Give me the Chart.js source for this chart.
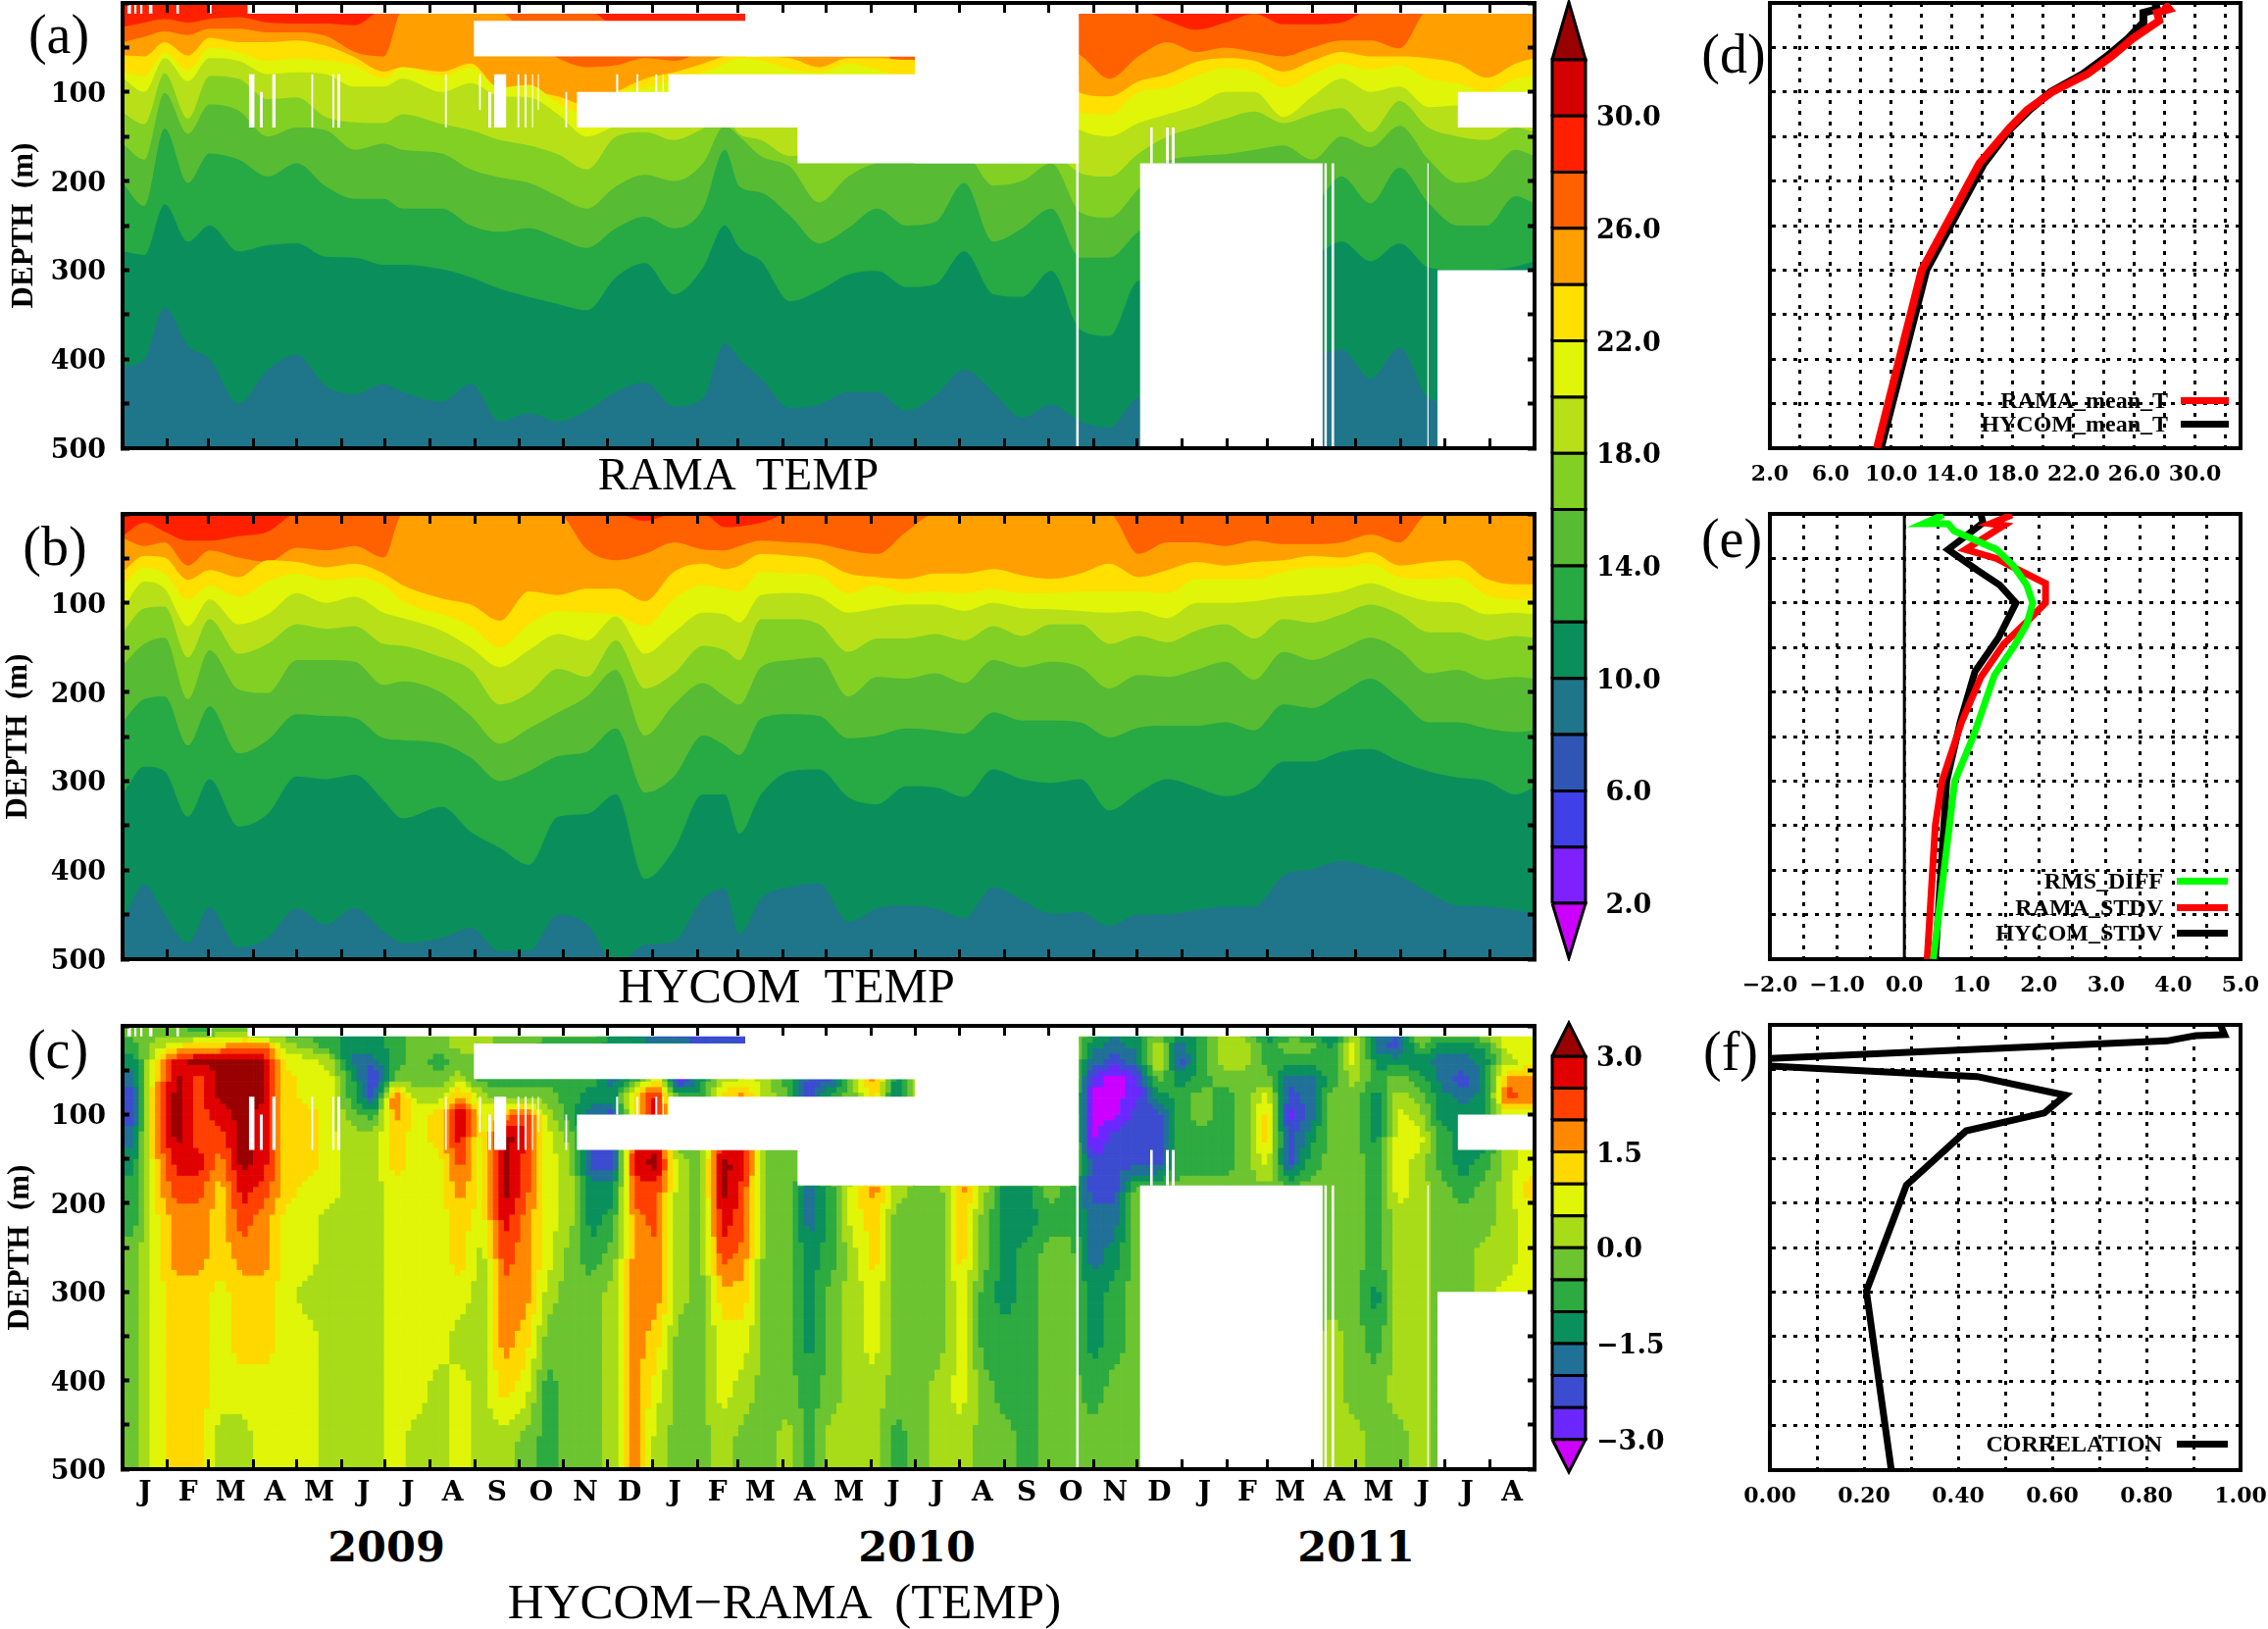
<!DOCTYPE html>
<html>
<head>
<meta charset="utf-8">
<title>HYCOM RAMA TEMP</title>
<script src="https://cdn.jsdelivr.net/npm/chart.js@4"></script>
<style>
  html, body { margin: 0; padding: 0; background: #fff; }
  #page { position: relative; width: 2313px; height: 1661px; overflow: hidden; }
  canvas { position: absolute; }
  .txt { position: absolute; white-space: pre; line-height: 1; color: #000; transform: translate(-50%, -50%); }
  .rt { transform: translate(-100%, -50%); }
  .key { position: absolute; height: 7px; }
</style>
</head>
<body>
<div id="page"></div>
<script>
// time axis, days since 1 Jan 2009
const monthDays = [0,31,59,90,120,151,181,212,243,273,304,334,365,396,424,455,485,516,546,577,608,638,669,699,730,761,789,820,850,881,911,942,973];
const monthLetters = ['J','F','M','A','M','J','J','A','S','O','N','D','J','F','M','A','M','J','J','A','S','O','N','D','J','F','M','A','M','J','J','A'];
const depthTicks = [0,50,100,150,200,250,300,350,400,450,500];

// days where the isotherm depths below were read
const knotDays = [0,15,29,45,60,80,100,120,140,160,180,193,220,240,260,280,300,320,340,360,380,400,415,425,440,460,480,500,520,540,560,580,600,620,640,660,680,700,720,740,760,780,800,820,840,860,880,900,920,940,960,973];

// (a) RAMA, depth (m) of each isotherm
const ramaT10 = [409,400,342,385,400,450,412,395,430,440,428,437,448,428,470,461,470,458,437,426,453,444,382,400,422,455,451,437,437,458,441,412,437,466,451,470,477,444,444,444,440,430,420,400,389,422,387,444,450,450,450,450];
const ramaT12 = [279,283,226,268,250,279,272,270,285,286,294,294,299,308,321,330,338,345,308,292,327,297,250,275,290,335,323,305,301,319,316,279,327,330,301,367,374,312,310,305,300,295,290,285,268,290,270,297,300,300,296,290];
const ramaT14 = [202,228,141,202,169,176,195,180,206,220,220,231,231,250,257,253,264,275,253,240,253,231,165,206,213,239,270,253,231,250,246,202,268,253,231,286,286,257,240,235,230,225,225,225,195,225,185,225,250,250,217,225];
const ramaT16 = [158,176,101,147,114,121,150,140,143,165,158,165,169,187,196,202,217,231,206,193,200,180,138,150,172,184,224,195,180,178,176,170,205,200,180,235,241,209,178,172,170,165,160,176,150,162,138,176,202,195,165,172];
const ramaT18 = [123,136,79,130,82,85,108,106,128,134,135,125,136,143,154,160,170,187,150,145,154,141,128,147,154,172,170,170,170,170,170,170,170,170,170,191,195,169,150,140,130,122,135,125,118,145,110,140,150,154,140,145];
const ramaT20 = [84,100,62,88,62,65,80,78,80,94,94,85,100,90,105,106,125,150,138,128,135,125,120,130,135,120,120,120,120,120,120,120,120,120,120,143,150,135,125,115,100,100,128,105,85,100,94,117,115,115,105,100];
const ramaT22 = [78,82,55,75,50,55,65,62,65,70,85,72,82,72,95,92,112,125,100,95,85,78,68,62,65,74,78,68,75,85,85,85,85,85,85,123,125,100,95,82,73,78,95,80,68,75,70,85,90,100,85,82];
const ramaT24 = [59,60,44,59,39,44,44,42,48,61,77,72,77,68,98,100,105,115,100,85,78,68,60,58,60,62,72,62,62,64,64,64,64,64,64,101,105,88,80,66,62,65,77,65,55,60,60,62,68,84,68,62];
const ramaT26 = [44,38,32,36,29,29,33,33,37,55,60,8,8,8,10,40,62,72,70,62,65,55,50,50,50,50,50,50,50,78,50,50,50,50,50,59,85,60,44,55,50,55,60,50,42,42,51,8,8,8,8,8];
const ramaT28 = [27,22,18,22,18,16,22,23,23,25,8,8,8,8,8,8,8,8,25,25,25,25,25,25,25,8,8,8,8,8,8,8,8,8,8,8,8,8,20,30,22,12,24,24,22,8,8,8,8,8,8,8];

// (b) HYCOM, depth (m) of each isotherm
const hycomT10 = [458,416,450,482,442,487,476,443,461,443,469,482,476,465,491,491,450,461,505,484,480,432,421,472,432,419,415,458,443,440,443,454,419,434,449,447,463,450,450,445,441,441,406,399,390,397,406,425,440,441,445,449];
const hycomT12 = [315,284,289,340,298,351,337,295,298,293,322,342,329,357,375,394,340,337,315,410,377,315,315,359,315,289,287,318,326,306,307,318,287,298,302,298,333,313,298,307,317,307,278,278,267,264,278,289,296,300,315,307];
const hycomT14 = [234,208,205,260,216,269,254,225,227,229,252,254,258,274,300,289,272,267,241,313,295,249,260,271,230,225,227,252,249,241,243,247,223,232,232,234,251,240,238,238,234,243,214,218,201,185,208,234,234,241,245,243];
const hycomT16 = [170,146,139,208,153,197,201,164,164,166,192,188,201,227,258,241,223,205,175,249,214,190,205,214,172,164,161,205,183,185,179,190,164,172,166,172,196,181,183,175,166,186,155,164,152,139,153,179,175,186,183,185];
const hycomT18 = [133,106,104,161,118,157,146,124,129,126,146,148,161,175,214,201,174,183,142,196,179,148,153,164,118,118,124,155,140,140,135,142,126,137,124,124,146,137,144,131,124,140,118,122,113,102,113,133,133,142,137,139];
const hycomT20 = [107,76,84,126,96,124,113,89,100,93,111,117,131,150,172,153,135,142,115,157,133,111,113,122,91,89,93,111,106,102,102,109,100,106,107,109,111,109,117,100,100,98,93,91,87,78,89,98,100,113,111,113];
const hycomT22 = [80,60,67,96,80,93,76,67,74,71,80,98,113,126,150,124,109,111,113,126,95,80,84,87,65,67,69,89,80,89,87,89,84,89,89,87,87,87,89,73,73,73,65,60,60,56,71,73,71,91,96,96];
const hycomT24 = [65,47,49,74,63,71,52,54,60,56,67,80,95,102,120,87,91,84,84,98,65,56,62,58,45,47,51,67,71,73,67,67,62,69,73,67,56,71,63,54,58,54,52,47,49,43,58,54,52,73,79,79];
const hycomT26 = [27,36,32,58,41,49,54,38,41,36,49,0,0,0,0,0,0,40,52,45,32,40,41,36,30,32,34,41,45,20,0,0,0,0,0,0,0,45,32,32,36,30,34,34,32,23,32,0,0,0,0,0];
const hycomT28 = [25,10,20,30,30,25,20,0,0,0,0,0,0,0,0,0,0,0,0,8,0,0,15,14,10,0,0,0,0,0,0,0,0,0,0,0,0,0,0,0,0,0,0,0,0,0,0,0,0,0,0,0];

const tempColors = ['#1F758A','#0A8F5C','#27A943','#57BB33','#82D024','#B8E018','#E0F507','#FFE000','#FF9F00','#FF6000','#FF2000'];

// (c) HYCOM-RAMA, one list of 15 values per 15-day column, top to bottom
const diffDepths = [6,21,40,60,80,100,125,155,185,220,260,305,355,410,470];
const diffColumns = [
  [-0.25,-0.75,-1.25,-1.75,-2.25,-2.25,-1.75,-1.25,-0.75,-0.75,-0.25,-0.25,-0.25,-0.25,-0.25],
  [-0.25,0.25,0.75,1.25,1.75,1.75,1.75,1.25,1.25,0.75,0.75,0.75,0.75,0.75,0.75],
  [-0.25,0.75,2.75,3.2,3.2,3.2,3.2,2.75,2.25,1.75,1.75,1.25,1.25,1.25,1.25],
  [-0.75,1.25,3.2,2.25,2.25,2.25,2.25,2.75,2.25,1.75,1.75,1.25,1.25,1.25,1.25],
  [-0.25,1.25,3.2,3.2,3.2,2.75,2.25,1.75,1.25,1.25,1.25,0.75,0.75,0.75,0.25],
  [-0.25,1.75,3.2,3.2,3.2,3.2,3.2,3.2,2.75,2.25,1.75,1.25,1.25,0.75,0.25],
  [-0.75,1.75,3.2,3.2,3.2,2.75,2.75,2.75,2.25,1.75,1.75,1.25,1.25,0.75,0.75],
  [-0.75,0.25,0.75,1.25,1.25,1.25,1.25,1.25,1.25,0.75,0.75,0.75,0.75,0.75,0.75],
  [-0.75,-0.25,0.75,0.75,0.75,1.25,1.25,1.25,0.75,0.75,0.75,0.25,0.75,0.75,0.75],
  [-0.75,-0.75,0.25,0.75,0.75,0.75,0.75,0.75,0.75,0.25,0.25,0.25,0.25,0.25,0.25],
  [-1.25,-1.25,-1.75,-0.75,-0.75,-0.25,0.25,0.25,0.25,0.25,0.25,0.25,0.25,0.25,0.25],
  [-1.25,-1.25,-1.75,-2.75,-2.25,-0.75,0.25,0.25,0.25,0.25,0.25,0.25,0.25,0.25,0.25],
  [-0.75,-0.75,-0.75,-0.25,2.25,1.75,1.25,1.25,0.75,0.75,0.75,0.75,0.75,0.75,0.75],
  [-0.25,-0.25,-0.25,-0.25,0.25,0.75,0.75,0.75,0.75,0.75,0.75,0.75,0.75,0.75,0.25],
  [-0.25,-0.25,-0.75,-0.25,0.25,1.25,1.25,0.75,0.75,0.75,0.75,0.75,0.75,0.25,0.25],
  [0.25,0.25,-0.25,0.25,1.75,3.2,2.75,2.25,1.75,1.25,1.25,0.75,0.25,0.75,0.75],
  [0.25,0.25,-0.25,-0.75,0.25,0.75,0.75,0.75,0.75,0.75,0.25,0.25,0.25,0.25,0.25],
  [-0.25,-0.25,-0.25,-0.75,-0.25,1.75,3.2,3.2,3.2,2.75,2.25,1.75,1.75,1.25,0.25],
  [-0.25,-0.25,-0.75,-0.75,-0.25,2.25,2.75,2.25,2.25,1.75,1.75,1.75,1.25,0.75,-0.25],
  [-0.25,-0.75,-0.75,-0.75,-0.25,0.25,0.75,0.75,0.75,0.75,0.75,0.25,-0.25,-0.75,-0.75],
  [-0.25,-0.75,-0.75,-0.75,-0.75,-0.75,-0.25,0.25,0.25,0.25,-0.25,-0.25,-0.25,-0.25,-0.25],
  [-0.25,-0.75,-0.75,-0.75,-1.25,-1.75,-1.75,-2.25,-1.25,-1.25,-0.75,-0.25,-0.25,-0.25,-0.25],
  [-1.25,-1.25,-1.25,-1.75,-1.25,-2.25,-2.25,-2.25,-1.25,-0.75,-0.25,0.25,0.25,0.25,0.25],
  [-1.75,-1.25,-0.75,-0.75,1.25,1.25,2.25,2.75,2.25,1.75,1.75,1.75,1.75,1.75,1.75],
  [-2.25,-1.25,-0.75,1.25,2.75,2.75,2.75,3.2,2.25,2.25,1.75,1.75,1.25,0.75,0.25],
  [-2.25,-1.25,-0.75,-2.75,-0.75,-0.25,-0.25,0.25,0.25,0.25,0.25,0.25,-0.25,-0.25,-0.25],
  [-2.25,-2.25,-1.75,-1.25,-0.75,-0.75,-0.25,-0.25,-0.25,-0.25,-0.25,-0.25,-0.25,-0.25,-0.25],
  [-2.75,-1.75,-1.75,0.25,1.25,1.75,2.25,3.2,3.2,2.75,2.25,1.25,0.75,0.75,0.25],
  [-2.25,-2.25,-1.75,0.75,1.75,1.75,2.25,2.75,2.25,2.25,1.75,1.25,0.75,0.25,-0.25],
  [-0.75,-0.75,-0.75,0.25,0.25,0.25,0.25,-0.25,-0.25,-0.25,-0.25,-0.25,-0.25,-0.25,-0.25],
  [0.25,0.25,0.25,-0.75,-0.25,-0.75,-0.75,-0.25,-0.25,-0.25,-0.25,-0.25,-0.25,-0.25,0.25],
  [0.25,0.25,0.25,-2.25,-2.25,0.25,0.25,0.25,-1.75,-1.75,-1.25,-1.25,-1.25,-0.75,-0.75],
  [0.25,0.25,0.25,-2.25,-0.75,0.25,0.25,0.25,-0.75,-0.75,-0.75,-0.25,-0.25,-0.25,0.25],
  [0.25,0.25,0.25,0.25,-0.25,0.25,0.25,0.25,0.75,0.75,0.25,0.25,0.25,0.25,0.25],
  [0.25,0.25,0.25,1.75,1.25,0.25,0.25,0.25,1.75,1.25,1.25,0.75,0.75,0.25,0.25],
  [0.25,0.25,0.25,-1.25,-1.75,0.25,0.25,0.25,0.25,-0.25,-0.25,-0.25,-0.25,-0.25,-0.75],
  [0.25,0.25,0.25,0.25,0.25,0.25,0.25,0.25,-0.25,-0.25,-0.25,-0.25,-0.25,-0.25,-0.25],
  [0.25,0.25,0.25,0.25,0.25,0.25,0.25,0.25,-0.25,-0.25,-0.25,-0.25,-0.25,0.25,0.25],
  [0.25,0.25,0.25,0.25,0.25,0.25,0.25,0.25,1.75,1.25,1.25,0.75,0.75,0.75,0.25],
  [0.25,0.25,0.25,0.25,0.25,0.25,0.25,0.25,0.25,-0.25,-0.25,-0.75,-0.75,-0.25,-0.25],
  [0.25,0.25,0.25,0.25,0.25,0.25,0.25,0.25,-1.25,-1.25,-1.25,-1.25,-0.75,-0.75,-0.25],
  [0.25,0.25,0.25,0.25,0.25,0.25,0.25,0.25,-1.25,-1.25,-0.75,-0.75,-0.75,-0.75,-0.75],
  [0.25,0.25,0.25,0.25,0.25,0.25,0.25,0.25,-0.25,-0.75,-0.25,-0.25,-0.25,-0.25,-0.25],
  [0.25,0.25,0.25,0.25,0.25,0.25,0.25,0.25,-0.75,-0.75,-0.25,-0.25,-0.25,-0.25,-0.25],
  [-0.75,-1.25,-1.75,-2.75,-3.2,-3.2,-3.2,-2.25,-2.25,-1.75,-1.75,-1.25,-1.25,-0.75,-0.25],
  [-1.25,-1.75,-2.25,-3.2,-3.2,-3.2,-2.25,-2.25,-2.25,-1.75,-1.25,-0.75,-0.75,-0.25,-0.25],
  [-1.25,-1.25,-1.75,-2.75,-2.75,-2.25,-2.25,-2.25,-0.25,-0.25,-0.25,-0.25,-0.25,-0.25,-0.25],
  [-0.25,0.25,0.75,-0.25,-1.25,-2.25,-2.25,-2.25,-0.25,-0.25,-0.25,-0.25,-0.25,-0.25,-0.25],
  [-1.25,-1.75,-2.25,-1.25,-0.75,-0.75,-0.75,-0.75,-0.25,-0.25,-0.25,-0.25,-0.25,-0.25,-0.25],
  [-0.75,-0.75,-0.75,-0.75,-0.25,-0.25,-0.75,-0.75,-0.25,-0.25,-0.25,-0.25,-0.25,-0.25,-0.25],
  [0.25,0.25,0.25,-0.25,-0.75,-0.75,-0.75,-0.75,-0.25,-0.25,-0.25,-0.25,-0.25,-0.25,-0.25],
  [-0.25,0.25,0.25,-0.25,-0.25,-0.25,-0.25,-0.25,-0.25,-0.25,-0.25,-0.25,-0.25,-0.25,-0.25],
  [-1.75,-0.75,-0.75,-0.25,0.75,1.25,1.25,0.75,-0.25,-0.25,-0.25,-0.25,-0.25,-0.25,-0.25],
  [-0.75,-0.25,-0.75,-1.75,-2.25,-2.75,-2.25,-2.25,-0.25,-0.25,-0.25,-0.25,-0.25,-0.25,-0.25],
  [-1.25,-0.25,-0.75,-1.75,-1.75,-1.75,-1.25,-0.75,-0.25,-0.25,-0.25,-0.25,-0.25,-0.25,-0.25],
  [-1.25,-1.25,-0.75,-0.75,-0.25,-0.25,-0.25,-0.25,-0.25,-0.25,-0.25,-0.25,0.25,0.25,0.25],
  [-0.25,0.75,0.75,0.25,-0.25,-0.25,-0.25,-0.25,-0.25,-0.25,-0.25,-0.25,-0.25,-0.25,0.25],
  [-1.75,-1.75,-1.25,-0.75,-1.25,-1.25,-1.25,-0.75,-0.75,-0.75,-0.75,-1.25,-0.75,-0.25,-0.25],
  [-1.75,-2.25,-1.25,-0.25,0.25,0.75,0.75,0.75,0.75,0.25,0.25,0.25,0.25,0.25,-0.25],
  [-0.25,-0.25,-1.25,-0.75,-0.25,0.25,0.75,0.25,0.25,0.25,0.25,0.25,0.25,0.25,0.25],
  [-0.25,-1.25,-1.75,-1.75,-1.25,-1.25,-0.75,-0.75,-0.25,-0.25,-0.25,-0.25,-0.25,-0.25,-0.25],
  [0.25,-1.25,-1.75,-2.25,-1.75,-1.25,-1.25,-1.25,-0.75,-0.25,-0.25,-0.25,-0.25,-0.25,-0.25],
  [0.25,-0.75,-1.25,-1.25,-1.25,-1.25,-1.25,-0.75,-0.25,-0.25,0.25,0.25,0.25,0.25,0.25],
  [0.75,0.75,0.25,1.75,2.25,0.75,0.25,0.25,0.25,0.25,0.25,0.75,0.25,0.25,0.25],
  [0.75,0.75,0.75,1.75,1.75,0.75,0.75,0.75,1.25,0.75,0.75,0.75,0.25,0.25,0.25]
];
const diffLevels = [-3,-2.5,-2,-1.5,-1,-0.5,0,0.5,1,1.5,2,2.5,3];
const diffColors = ['#CC00FF','#6A28FF','#3C4CD0','#207098','#0A905C','#2DAA40','#6CC430','#A8DC18','#E0F507','#FFD800','#FF8800','#FF4000','#E00000','#990000'];

// missing RAMA records, same for (a) and (c)
const gapStart  = [86,429,242,546,377,313,465,657,701,828,833,899,906,920,708,719,723,87,94.5,103,130,144.5,148,222,245.5,252,256,272,277,282,286,305,340,354,367,372,376,3.4,8,12,18,37,60];
const gapEnd    = [973,659,659,659,659,659,659,659,827,830,835,900,972,972,710,721,725,91,96.6,105.5,131.5,146,150,223.5,247,254,264.5,273.5,278.5,283,287,306.5,341.7,355.5,368.6,373,377.6,5.9,9.7,13.8,20.7,39,61.4];
const gapTop    = [0,11,20,55,80,100,135,0,180,180,180,180,300,100,140,140,140,80,100,80,80,80,80,80,80,100,80,80,80,80,80,100,80,80,80,80,80,0,0,0,0,0,0];
const gapBottom = [12,60,60,180,140,140,180,500,500,500,500,500,500,140,180,180,180,140,140,140,140,140,140,140,120,140,140,140,140,140,120,140,100,100,100,100,100,12,12,12,12,12,12];

// (d) mean temperature profiles
const ramaMeanDepth = [1,7,11,20,40,60,80,100,120,140,180,300,500];
const ramaMeanT = [28.0,28.3,27.5,27.65,25.9,24.5,22.9,20.6,18.95,17.8,15.8,12.0,9.05];
const hycomMeanDepth = [1,7,11,22,40,60,80,100,120,140,180,300,500];
const hycomMeanT = [27.4,27.5,26.6,26.6,25.6,24.2,22.6,20.5,19.1,17.9,16.1,12.3,9.3];

// (e) standard deviations and rms difference
const rmsDepth = [1,11,11,19,40,58,80,100,124,150,181,249,300,500];
const rmsDiff = [0.58,0.28,0.65,0.74,1.37,1.62,1.82,1.91,1.82,1.62,1.34,1.03,0.75,0.43];
const ramaStdDepth = [1,11,13,40,50,60,78,100,119,146,183,234,300,350,500];
const ramaStd = [1.6,1.28,1.48,0.91,1.37,1.62,2.1,2.1,1.85,1.48,1.14,0.85,0.56,0.46,0.34];
const hycomStdDepth = [1,10,40,63,80,100,139,177,234,300,500];
const hycomStd = [1.14,1.17,0.65,1.08,1.42,1.66,1.4,1.05,0.83,0.63,0.46];

// (f) correlation
const corrDepth = [1,11,12,18,38,46,58,79,99,119,180,299,500];
const corr = [0.958,0.966,0.905,0.844,-0.01,-0.01,0.44,0.628,0.583,0.417,0.29,0.205,0.258];

const serif = '"Liberation Serif", serif';
const boldSerif = '"DejaVu Serif", serif';
const page = document.getElementById('page');

function addCanvas(left, top, width, height) {
  const c = document.createElement('canvas');
  c.width = width;
  c.height = height;
  c.style.left = left + 'px';
  c.style.top = top + 'px';
  page.appendChild(c);
  return c;
}

function addText(text, x, y, font, cls) {
  const d = document.createElement('div');
  d.className = 'txt' + (cls ? ' ' + cls : '');
  d.textContent = text;
  d.style.left = x + 'px';
  d.style.top = y + 'px';
  d.style.font = font;
  page.appendChild(d);
}

function addKey(color, x1, x2, y) {
  const d = document.createElement('div');
  d.className = 'key';
  d.style.left = x1 + 'px';
  d.style.width = (x2 - x1) + 'px';
  d.style.top = (y - 3) + 'px';
  d.style.background = color;
  page.appendChild(d);
}

const baseOptions = {
  responsive: false,
  animation: false,
  devicePixelRatio: 1,
  events: [],
  plugins: { legend: { display: false }, tooltip: { enabled: false } }
};

const monthMids = monthLetters.map((m, i) => (monthDays[i] + monthDays[i + 1]) / 2);

// fixes an axis box so the plot area lands on exact pixels
function fixBox(s, size) {
  if (s.isHorizontal()) s.height = size; else s.width = size;
  s.paddingLeft = s.paddingRight = s.paddingTop = s.paddingBottom = 0;
}

// the four framed axes of a time-depth panel, ticks pointing inward
function timeDepthScales(depthTitle, titlePad, bottomSize, showMonths) {
  const monthTicks = s => { s.ticks = monthDays.map(v => ({ value: v })).concat(showMonths ? monthMids.map(v => ({ value: v })) : []).sort((a, b) => a.value - b.value); };
  const depthTickList = s => { s.ticks = depthTicks.map(v => ({ value: v })); };
  const tickColor = ctx => (ctx.tick && monthDays.includes(ctx.tick.value) ? '#000' : 'rgba(0,0,0,0)');
  const xGrid = { drawOnChartArea: false, tickLength: -10, tickWidth: 3, tickColor: tickColor, z: 1 };
  const yGrid = { drawOnChartArea: false, tickLength: -7, tickWidth: 4, tickColor: '#000', z: 1 };
  const frame = { color: '#000', width: 4, z: 1 };
  return {
    x: {
      type: 'linear', position: 'bottom', min: 0, max: 973,
      afterBuildTicks: monthTicks,
      afterFit: s => fixBox(s, bottomSize),
      grid: xGrid, border: frame,
      ticks: {
        display: showMonths, autoSkip: false, maxRotation: 0, padding: 18, z: 1, color: '#000',
        font: { family: boldSerif, weight: 'bold', size: 28 },
        callback: v => { const i = monthMids.indexOf(v); return i >= 0 ? monthLetters[i] : ''; }
      }
    },
    xTop: {
      axis: 'x', type: 'linear', position: 'top', min: 0, max: 973,
      afterBuildTicks: monthTicks,
      afterFit: s => fixBox(s, 5),
      grid: xGrid, border: frame, ticks: { display: false }
    },
    y: {
      type: 'linear', position: 'left', reverse: true, min: 0, max: 500,
      afterBuildTicks: depthTickList,
      afterFit: s => fixBox(s, 125),
      grid: yGrid, border: frame,
      title: { display: true, text: depthTitle, color: '#000', padding: { top: titlePad, bottom: 0 }, font: { family: serif, weight: 'bold', size: 31 } },
      ticks: {
        padding: 24, labelOffset: 3, autoSkip: false, color: '#000', z: 1,
        font: { family: boldSerif, weight: 'bold', size: 27 },
        callback: v => (v > 0 && v % 100 === 0 ? String(v) : '')
      }
    },
    yRight: {
      axis: 'y', type: 'linear', position: 'right', reverse: true, min: 0, max: 500,
      afterBuildTicks: depthTickList,
      afterFit: s => fixBox(s, 10),
      grid: yGrid, border: frame, ticks: { display: false }
    }
  };
}

function gapDatasets() {
  return gapStart.map((s, i) => ({
    type: 'line',
    data: [{ x: s, y: gapTop[i] }, { x: gapEnd[i], y: gapTop[i] }],
    xAxisID: 'x', yAxisID: 'y',
    borderWidth: 0, pointRadius: 0, tension: 0,
    backgroundColor: '#fff',
    fill: { value: gapBottom[i] }
  }));
}

function isothermDatasets(series) {
  const sets = series.map((depths, i) => ({
    type: 'line',
    data: knotDays.map((d, k) => ({ x: d, y: depths[k] })),
    xAxisID: 'x', yAxisID: 'y',
    borderWidth: 0, pointRadius: 0, cubicInterpolationMode: 'monotone',
    backgroundColor: tempColors[i],
    fill: { value: 500 }
  }));
  sets.push({
    type: 'line',
    data: [{ x: 0, y: 0 }, { x: 973, y: 0 }],
    xAxisID: 'x', yAxisID: 'y',
    borderWidth: 0, pointRadius: 0,
    backgroundColor: tempColors[tempColors.length - 1],
    fill: { value: 500 }
  });
  return sets;
}

function diffColor(v) {
  let i = 0;
  while (i < diffLevels.length && v > diffLevels[i]) i++;
  return diffColors[i];
}

// contour shading of the read grid: each thin bar takes the level of its place in the grid
const shadeDayStep = 3.75;
const shadeDepthStep = 6.25;
const shadeDays = [];
for (let d = shadeDayStep / 2; d < 973; d += shadeDayStep) shadeDays.push(d);

function gridValue(day, depth) {
  const cx = Math.min(diffColumns.length - 1, Math.max(0, (day - 7.5) / 15));
  const c0 = Math.floor(cx);
  const c1 = Math.min(diffColumns.length - 1, c0 + 1);
  let r1 = diffDepths.findIndex(z => z >= depth);
  if (r1 < 0) r1 = diffDepths.length - 1;
  const r0 = Math.max(0, r1 - 1);
  const ry = r0 === r1 ? 0 : Math.min(1, Math.max(0, (depth - diffDepths[r0]) / (diffDepths[r1] - diffDepths[r0])));
  const at = c => diffColumns[c][r0] + (diffColumns[c][r1] - diffColumns[c][r0]) * ry;
  return at(c0) + (at(c1) - at(c0)) * (cx - c0);
}

function cellDatasets() {
  const sets = [];
  for (let top = 0; top < 500; top += shadeDepthStep) {
    sets.push({
      type: 'bar',
      data: shadeDays.map(() => [top, top + shadeDepthStep]),
      backgroundColor: shadeDays.map(d => diffColor(gridValue(d, top + shadeDepthStep / 2))),
      xAxisID: 'xCells', yAxisID: 'y',
      grouped: false, barPercentage: 1, categoryPercentage: 1, borderWidth: 0
    });
  }
  return sets;
}

// (a)
new Chart(addCanvas(0, 0, 1575, 470), {
  type: 'line',
  data: { datasets: gapDatasets().concat(isothermDatasets([ramaT10, ramaT12, ramaT14, ramaT16, ramaT18, ramaT20, ramaT22, ramaT24, ramaT26, ramaT28])) },
  options: Object.assign({}, baseOptions, { layout: { padding: { top: -2 } }, scales: timeDepthScales('DEPTH  (m)', 6, 13, false) })
});

// (b)
new Chart(addCanvas(0, 519, 1575, 472), {
  type: 'line',
  data: { datasets: isothermDatasets([hycomT10, hycomT12, hycomT14, hycomT16, hycomT18, hycomT20, hycomT22, hycomT24, hycomT26, hycomT28]) },
  options: Object.assign({}, baseOptions, { scales: timeDepthScales('DEPTH  (m)', 0, 13, false) })
});

// (c)
const cScales = timeDepthScales('DEPTH  (m)', 2, 45, true);
const cellLabels = shadeDays.map(String);
cScales.xCells = { axis: 'x', type: 'category', display: false, offset: true, labels: cellLabels };
new Chart(addCanvas(0, 1041, 1575, 502), {
  type: 'line',
  data: { labels: cellLabels, datasets: gapDatasets().concat(cellDatasets()) },
  options: Object.assign({}, baseOptions, { scales: cScales })
});

// dotted profile panels
function profileChart(top, xMin, xMax, xStep, labelEvery, decimals, datasets) {
  const xTicks = [];
  for (let i = 0; xMin + i * xStep <= xMax + 1e-9; i++) xTicks.push(xMin + i * xStep);
  const dotted = { color: '#000', width: 4, dash: [4, 7] };
  const grid = { color: '#000', lineWidth: 3, drawTicks: false };
  return new Chart(addCanvas(1700, top - 5, 613, 500), {
    type: 'scatter',
    data: { datasets: datasets },
    options: Object.assign({}, baseOptions, {
      scales: {
        x: {
          type: 'linear', position: 'bottom', min: xMin, max: xMax,
          afterBuildTicks: s => { s.ticks = xTicks.map(v => ({ value: v })); },
          afterFit: s => fixBox(s, 500 - 5 - 454),
          grid: grid, border: dotted,
          ticks: {
            autoSkip: false, maxRotation: 0, padding: 14, color: '#000',
            font: { family: boldSerif, weight: 'bold', size: 22 },
            callback: v => {
              const n = Math.round((v - xMin) / xStep);
              return n % labelEvery === 0 ? v.toFixed(decimals).replace('-', '\u2212') : '';
            }
          }
        },
        xTop: {
          axis: 'x', type: 'linear', position: 'top', min: xMin, max: xMax,
          afterFit: s => fixBox(s, 5),
          grid: { display: false }, border: { color: '#000', width: 4 }, ticks: { display: false }
        },
        y: {
          type: 'linear', position: 'left', reverse: true, min: 0, max: 500,
          afterBuildTicks: s => { s.ticks = depthTicks.map(v => ({ value: v })); },
          afterFit: s => fixBox(s, 105),
          grid: grid, border: dotted, ticks: { display: false }
        },
        yRight: {
          axis: 'y', type: 'linear', position: 'right', reverse: true, min: 0, max: 500,
          afterFit: s => fixBox(s, 28),
          grid: { display: false }, border: { color: '#000', width: 4 }, ticks: { display: false }
        }
      }
    })
  });
}

function profile(xs, depths, color, width) {
  return {
    data: xs.map((v, i) => ({ x: v, y: depths[i] })),
    showLine: true, pointRadius: 0, borderColor: color, borderWidth: width, tension: 0, fill: false
  };
}

profileChart(3, 2, 33, 2, 2, 1, [
  profile(ramaMeanT, ramaMeanDepth, '#FF0000', 8),
  profile(hycomMeanT, hycomMeanDepth, '#000', 8)
]);
profileChart(524, -2, 5, 0.5, 2, 1, [
  profile(rmsDiff, rmsDepth, '#00FF00', 7),
  profile(ramaStd, ramaStdDepth, '#FF0000', 7),
  profile(hycomStd, hycomStdDepth, '#000', 7),
  profile([0, 0], [0, 500], '#000', 3)
]);
profileChart(1045, 0, 1, 0.1, 2, 2, [profile(corr, corrDepth, '#000', 7)]);

// colour bars
function colorBar(top, height, padTop, padBottom, levels, cellColors, tipLow, tipHigh, yMin, yMax, tickValues, centerLabels) {
  const cell = (lo, hi, color) => ({
    data: [{ x: 0, y: lo }, { x: 1, y: lo }, { x: 1, y: hi }, { x: 0, y: hi }, { x: 0, y: lo }],
    showLine: true, pointRadius: 0, borderColor: '#000', borderWidth: 3, backgroundColor: color, fill: 'shape', clip: false, tension: 0
  });
  const tip = (base, end, color) => ({
    data: [{ x: 0, y: base }, { x: 0.5, y: end }, { x: 1, y: base }, { x: 0, y: base }],
    showLine: true, pointRadius: 0, borderColor: '#000', borderWidth: 3, backgroundColor: color, fill: 'shape', clip: false, tension: 0
  });
  const sets = [tip(levels[0], yMin, tipLow), tip(levels[levels.length - 1], yMax, tipHigh)];
  cellColors.forEach((c, i) => sets.push(cell(levels[i], levels[i + 1], c)));
  new Chart(addCanvas(1570, top, 130, height), {
    type: 'scatter',
    data: { datasets: sets },
    options: Object.assign({}, baseOptions, {
      layout: { padding: { left: 13, top: padTop, bottom: padBottom } },
      scales: {
        x: { type: 'linear', min: 0, max: 1, display: false },
        y: {
          type: 'linear', position: 'right', min: yMin, max: yMax,
          afterBuildTicks: s => { s.ticks = tickValues.map(v => ({ value: v })); },
          afterFit: s => fixBox(s, 83),
          grid: { display: false }, border: { display: false },
          ticks: {
            autoSkip: false, padding: 3, labelOffset: 3, color: '#000', crossAlign: centerLabels ? 'center' : 'near',
            font: { family: boldSerif, weight: 'bold', size: 27 },
            callback: v => v.toFixed(1).replace('-', '\u2212')
          }
        }
      }
    })
  });
}

const tempBarLevels = [2,4,6,8,10,12,14,16,18,20,22,24,26,28,30,32];
const tempBarColors = ['#7F20FF','#4040E8','#2F56B5','#1F758A','#0A8F5C','#27A943','#57BB33','#82D024','#B8E018','#E0F507','#FFE000','#FF9F00','#FF6000','#FF2000','#D50000'];
const tempBarTicks = [2,6,10,14,18,22,26,30];
const diffBarTicks = [-3,-1.5,0,1.5,3];
colorBar(0, 980, 2, 3, tempBarLevels, tempBarColors, '#CC00FF', '#990000', 0.05, 34.05, tempBarTicks, true);
colorBar(1040, 465, 3, 4, diffLevels, diffColors.slice(1, 13), '#CC00FF', '#990000', -3.51, 3.52, diffBarTicks, false);

// panel letters and titles
const letterFont = '56px ' + serif;
addText('(a)', 60, 35, letterFont);
addText('(b)', 56, 557, letterFont);
addText('(c)', 59, 1070, letterFont);
addText('(d)', 1768, 55, letterFont);
addText('(e)', 1766, 549, letterFont);
addText('(f)', 1765, 1072, letterFont);

addText('RAMA  TEMP', 753, 483, '47px ' + serif);
addText('HYCOM  TEMP', 802, 1005, '50px ' + serif);
addText('HYCOM\u2212RAMA  (TEMP)', 800, 1633, '51px ' + serif);

const yearFont = 'bold 43px ' + boldSerif;
addText('2009', 394, 1577, yearFont);
addText('2010', 935, 1577, yearFont);
addText('2011', 1383, 1577, yearFont);

// legends
const keyFont = 'bold 24px ' + serif;
addText('RAMA_mean_T', 2211, 408, keyFont, 'rt');
addText('HYCOM_mean_T', 2211, 432, keyFont, 'rt');
addKey('#FF0000', 2224, 2273, 408);
addKey('#000', 2224, 2273, 432);
addText('RMS_DIFF', 2206, 898, keyFont, 'rt');
addText('RAMA_STDV', 2206, 925, keyFont, 'rt');
addText('HYCOM_STDV', 2206, 951, keyFont, 'rt');
addKey('#00FF00', 2220, 2272, 898);
addKey('#FF0000', 2220, 2272, 925);
addKey('#000', 2220, 2272, 951);
addText('CORRELATION', 2205, 1472, keyFont, 'rt');
addKey('#000', 2220, 2272, 1472);
</script>
</body>
</html>
